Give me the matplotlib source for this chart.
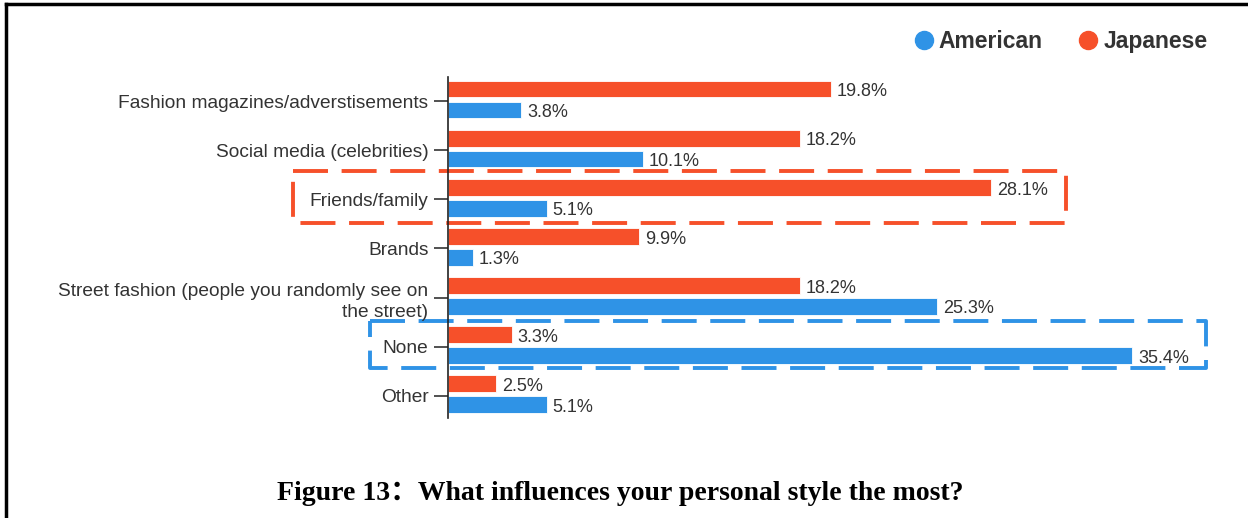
import matplotlib.pyplot as plt
from matplotlib.patches import Rectangle
from matplotlib.lines import Line2D
import matplotlib.transforms as mtransforms
import numpy as np

# Datos
categorias = ['Fashion magazines/adverstisements', 'Social media (celebrities)',
              'Friends/family', 'Brands',
              'Street fashion (people you randomly see on\nthe street)',
              'None', 'Other']
american = [3.8, 10.1, 5.1, 1.3, 25.3, 35.4, 5.1]
japanese = [19.8, 18.2, 28.1, 9.9, 18.2, 3.3, 2.5]

rojo = '#F6502A'
azul = '#2F93E6'
gris = '#333333'

plt.rcParams['font.family'] = ['Liberation Sans', 'DejaVu Sans']

fig = plt.figure(figsize=(12.48, 5.18), dpi=100)
ax = fig.add_axes([448 / 1248, 100 / 518, 773 / 1248, 341 / 518])

y = np.arange(len(categorias))
alto = 0.34
ax.barh(y - 0.245, japanese, height=alto, color=rojo, edgecolor='white', linewidth=0.6)
ax.barh(y + 0.18, american, height=alto, color=azul, edgecolor='white', linewidth=0.6)

for i in range(len(categorias)):
    ax.text(japanese[i] + 0.3, y[i] - 0.19, f'{japanese[i]:.1f}%', va='center', ha='left',
            fontsize=13, color=gris)
    ax.text(american[i] + 0.3, y[i] + 0.23, f'{american[i]:.1f}%', va='center', ha='left',
            fontsize=13, color=gris)

ax.set_xlim(0, 40)
ax.set_ylim(6.45, -0.49)
ax.set_yticks(y)
ax.set_yticklabels(categorias, fontsize=13.8, color=gris, ha='right', linespacing=1.3)
ax.tick_params(axis='y', length=10, width=1.2, color=gris, pad=4)
ax.set_xticks([])
for lado in ['top', 'right', 'bottom']:
    ax.spines[lado].set_visible(False)
ax.spines['left'].set_color('#222222')
ax.spines['left'].set_linewidth(1.2)

# Cajas punteadas (x en fracción del eje a la izquierda, y en datos)
pxx = 1 / 773  # un pixel en fracción del eje
trans = mtransforms.blended_transform_factory(ax.transAxes, ax.transData)
def caja(idx, x_izq_px, x_der_px, arriba, abajo, color):
    x0 = x_izq_px * pxx
    x1 = x_der_px * pxx
    r = Rectangle((x0, idx - arriba), x1 - x0, arriba + abajo, transform=trans,
                  fill=False, edgecolor=color, linewidth=2.8, linestyle=(0, (9, 3.5)),
                  clip_on=False, joinstyle='round')
    ax.add_patch(r)

caja(2, 293 - 448, 1066 - 448, 0.58, 0.49, rojo)
caja(5, 370 - 448, 1206 - 448, 0.52, 0.43, azul)

# Leyenda
handles = [Line2D([], [], marker='o', linestyle='', markersize=13, color=azul),
           Line2D([], [], marker='o', linestyle='', markersize=13, color=rojo)]
leg = fig.legend(handles, ['American', 'Japanese'], loc='upper right',
                 bbox_to_anchor=(1228 / 1248, 1 - 9 / 518), ncol=2, frameon=False,
                 prop={'weight': 'bold', 'size': 16.5}, handletextpad=0.1,
                 columnspacing=1.45, handlelength=1.1)
for t in leg.get_texts():
    t.set_color(gris)

# Título
fig.text(620 / 1248, 1 - 493 / 518, 'Figure 13：What influences your personal style the most?',
         ha='center', va='center', fontsize=20, fontweight='bold', color='black',
         family=['Liberation Serif', 'Noto Sans CJK SC'])

# Marco
fig.add_artist(Line2D([6 / 1248, 6 / 1248], [0, 1 - 4 / 518], transform=fig.transFigure,
                      color='black', linewidth=2.5))
fig.add_artist(Line2D([6 / 1248, 1], [1 - 4 / 518, 1 - 4 / 518], transform=fig.transFigure,
                      color='black', linewidth=2.5))

plt.savefig('out.png', dpi=100)
